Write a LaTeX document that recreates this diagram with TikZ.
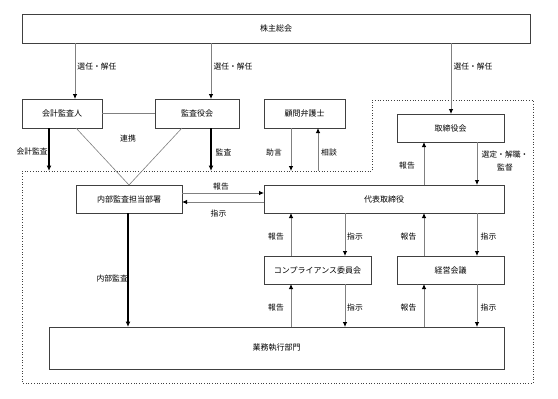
\documentclass[tikz,border=0pt]{standalone}
\usepackage{fontspec}
\setmainfont{Noto Sans CJK JP}
\usetikzlibrary{arrows.meta}
\definecolor{boxline}{HTML}{404040}
\definecolor{thinline}{HTML}{808080}
\begin{document}
\begin{tikzpicture}[x=1pt,y=-1pt,
  box/.style={draw=boxline,line width=0.8pt,rectangle,inner sep=0pt,outer sep=0pt,font=\fontsize{8}{9}\selectfont},
  lbl/.style={inner sep=0pt,font=\fontsize{7.8}{9}\selectfont},
  garr/.style={draw=thinline,line width=0.8pt,-{Latex[length=5pt,width=4.5pt,black]}},
  tarr/.style={draw=black,line width=1.4pt,-{Latex[length=5.5pt,width=5pt,black]}},
  thinl/.style={draw=thinline,line width=0.6pt}]
\useasboundingbox[fill=white] (0,0) rectangle (558,399);
% dotted boundary
\draw[boxline,dotted,line width=0.7pt] (22,171) -- (372,171) -- (372,100) -- (533,100) -- (533,383) -- (22,383) -- cycle;
% boxes
\node[box,minimum width=508pt,minimum height=29pt] (top) at (276,28.5) {株主総会};
\node[box,minimum width=80pt,minimum height=29pt] (kaikei) at (62,113.5) {会計監査人};
\node[box,minimum width=84pt,minimum height=29pt] (kansa) at (197,113.5) {監査役会};
\node[box,minimum width=81pt,minimum height=29pt] (komon) at (304.5,113.5) {顧問弁護士};
\node[box,minimum width=107pt,minimum height=28pt] (tori) at (450.5,128) {取締役会};
\node[box,minimum width=106pt,minimum height=28pt] (naibu) at (129,199) {内部監査担当部署};
\node[box,minimum width=240pt,minimum height=28pt] (daihyo) at (384,199) {代表取締役};
\node[box,minimum width=107pt,minimum height=28pt] (comp) at (317.5,270) {コンプライアンス委員会};
\node[box,minimum width=107pt,minimum height=28pt] (keiei) at (450.5,270) {経営会議};
\node[box,minimum width=455pt,minimum height=42pt] (gyomu) at (276.5,348) {業務執行部門};
% column coordinates
\coordinate (c49) at (49,0);
\coordinate (c75) at (75,0);
\coordinate (c128) at (128,0);
\coordinate (c211) at (211,0);
\coordinate (c291) at (291,0);
\coordinate (c318) at (318,0);
\coordinate (c345) at (345,0);
\coordinate (c424) at (424,0);
\coordinate (c451) at (451,0);
\coordinate (c477) at (477,0);
\coordinate (r193) at (0,193);
\coordinate (r202) at (0,202);
\coordinate (d49) at (49,171);
\coordinate (d211) at (211,171);
\coordinate (d291) at (291,171);
\coordinate (d318) at (318,171);
% shareholders
\draw[garr] (top.south -| c75) -- (kaikei.north -| c75);
\draw[garr] (top.south -| c211) -- (kansa.north -| c211);
\draw[garr] (top.south -| c451) -- (tori.north -| c451);
% audits
\draw[tarr] (kaikei.south -| c49) -- (d49);
\draw[tarr] (kansa.south -| c211) -- (d211);
\draw[tarr] (naibu.south -| c128) -- (gyomu.north -| c128);
% cooperation
\draw[thinl] (kaikei.east) -- (kansa.west);
\draw[thinl] ([xshift=14pt]kaikei.south) -- (naibu.north);
\draw[thinl] ([xshift=-15pt]kansa.south) -- (naibu.north);
% lawyer
\draw[garr] (komon.south -| c291) -- (d291);
\draw[garr] (d318) -- (komon.south -| c318);
% board
\draw[garr] (daihyo.north -| c424) -- (tori.south -| c424);
\draw[garr] (tori.south -| c477) -- (daihyo.north -| c477);
% internal audit <-> representative
\draw[garr] (naibu.east |- r193) -- (daihyo.west |- r193);
\draw[garr] (daihyo.west |- r202) -- (naibu.east |- r202);
% representative <-> committees
\draw[garr] (comp.north -| c291) -- (daihyo.south -| c291);
\draw[garr] (daihyo.south -| c345) -- (comp.north -| c345);
\draw[garr] (keiei.north -| c424) -- (daihyo.south -| c424);
\draw[garr] (daihyo.south -| c477) -- (keiei.north -| c477);
% committees <-> operations
\draw[garr] (gyomu.north -| c291) -- (comp.south -| c291);
\draw[garr] (comp.south -| c345) -- (gyomu.north -| c345);
\draw[garr] (gyomu.north -| c424) -- (keiei.south -| c424);
\draw[garr] (keiei.south -| c477) -- (gyomu.north -| c477);
% labels
\node[lbl] (l1) at (97,67) {選任・解任};
\node[lbl] (l2) at (233,67) {選任・解任};
\node[lbl] (l3) at (473,67) {選任・解任};
\node[lbl] (l4) at (128,139) {連携};
\node[lbl,anchor=east] (l5) at (48,152) {会計監査};
\node[lbl] (l6) at (223.5,152) {監査};
\node[lbl] (l7) at (274,153) {助言};
\node[lbl] (l8) at (329,153) {相談};
\node[lbl] (l9) at (407,166) {報告};
\node[lbl] (l10) at (505,155) {選定・解職・};
\node[lbl] (l11) at (505,168) {監督};
\node[lbl] (l12) at (221,187) {報告};
\node[lbl] (l13) at (218.5,214) {指示};
\node[lbl] (l14) at (276,237) {報告};
\node[lbl] (l15) at (355,237) {指示};
\node[lbl] (l16) at (408.5,237) {報告};
\node[lbl] (l17) at (488.5,237) {指示};
\node[lbl] (l18) at (276,308) {報告};
\node[lbl] (l19) at (355,308) {指示};
\node[lbl] (l20) at (408.5,308) {報告};
\node[lbl] (l21) at (488.5,308) {指示};
\node[lbl,anchor=east] (l22) at (128,279) {内部監査};
\end{tikzpicture}
\end{document}
